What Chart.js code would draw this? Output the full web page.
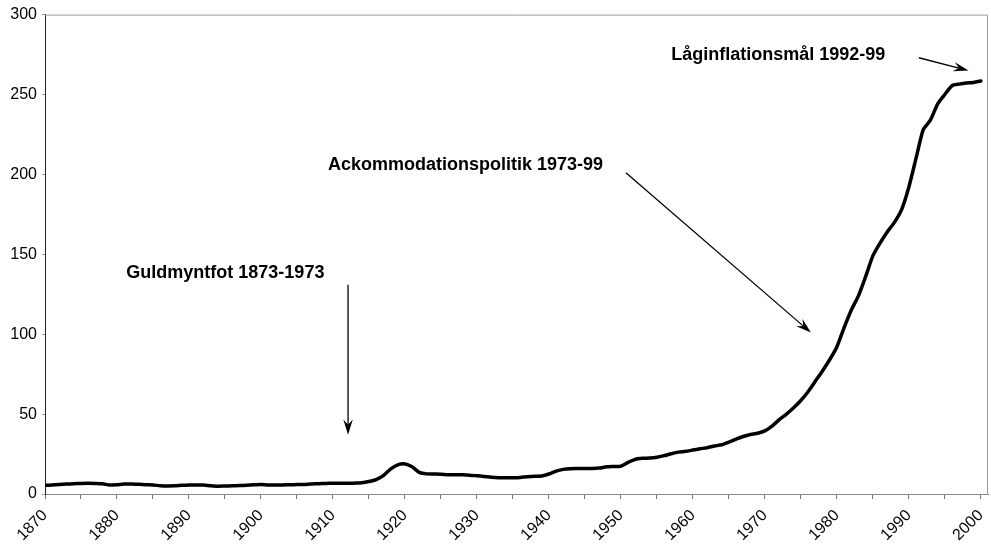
<!DOCTYPE html>
<html>
<head>
<meta charset="utf-8">
<script src="https://cdn.jsdelivr.net/npm/chart.js@4/dist/chart.umd.min.js"></script>
<style>
  html, body { margin: 0; padding: 0; background: #fff; }
  #wrap { width: 991px; height: 547px; }
</style>
</head>
<body>
<div id="wrap"><canvas id="myChart"></canvas></div>
<script>
// Price level index, annual values 1870-2000
const years = [];
for (let y = 1870; y <= 2000; y++) years.push(y);

const priceIndex = [
    5.4, 5.6, 5.9, 6.2, 6.4, 6.6, 6.7, 6.6, 6.4, 5.6,      // 1870-1879
    5.8, 6.2, 6.3, 6.1, 5.8, 5.6, 5.2, 5.0, 5.1, 5.4,      // 1880-1889
    5.6, 5.7, 5.6, 5.2, 4.9, 5.0, 5.1, 5.3, 5.5, 5.8,      // 1890-1899
    6.0, 5.7, 5.6, 5.7, 5.8, 5.9, 6.0, 6.3, 6.4, 6.6,      // 1900-1909
    6.7, 6.7, 6.7, 6.8, 7.0, 7.8, 9.0, 11.5, 15.6, 18.2,   // 1910-1919
    18.8, 17.0, 13.5, 12.6, 12.5, 12.4, 12.1, 12.0, 12.0, 11.8, // 1920-1929
    11.4, 11.0, 10.5, 10.2, 10.1, 10.2, 10.4, 10.8, 11.1, 11.3, // 1930-1939
    12.5, 14.3, 15.4, 15.8, 15.9, 16.0, 16.0, 16.2, 17.0, 17.2, // 1940-1949
    17.4, 19.8, 21.7, 22.3, 22.5, 23.0, 24.0, 25.2, 26.2, 26.7, // 1950-1959
    27.5, 28.3, 29.0, 30.0, 30.8, 32.5, 34.3, 36.0, 37.2, 38.0, // 1960-1969
    39.5, 42.5, 46.5, 50.0, 54.0, 58.5, 64.0, 70.5, 77.0, 84.0, // 1970-1979
    92.0, 104, 115, 124, 136, 149, 157, 164, 170, 178,          // 1980-1989
    192, 210, 228, 234, 244, 250, 255.5, 256.5, 257.2, 257.5,   // 1990-1999
    258.5                                                        // 2000
];

const yTicks = [0, 50, 100, 150, 200, 250, 300];

// annotation labels and arrows, in data units (year, index)
const noteTexts = ['Guldmyntfot 1873-1973', 'Ackommodationspolitik 1973-99', 'Låginflationsmål 1992-99'];
const notePos = [[1881.3, 138], [1909.3, 205.6], [1957.0, 274.5]];
const arrowFrom = [[1912.1, 131], [1950.7, 201], [1991.4, 273]];
const arrowTo = [[1912.1, 37], [1976.4, 101], [1998.3, 265]];

const annotations = {
    id: 'annotations',
    afterDraw(chart) {
        const ctx = chart.ctx;
        const xs = chart.scales.x;
        const ys = chart.scales.y;
        const area = chart.chartArea;

        ctx.save();
        // plot frame
        ctx.strokeStyle = '#999';
        ctx.lineWidth = 1;
        ctx.beginPath();
        ctx.moveTo(area.left, area.top + 0.5);
        ctx.lineTo(area.right - 0.5, area.top + 0.5);
        ctx.lineTo(area.right - 0.5, area.bottom);
        ctx.stroke();

        ctx.fillStyle = '#000';
        ctx.font = 'bold 18px "Liberation Sans", Arial, sans-serif';
        ctx.textBaseline = 'middle';
        ctx.textAlign = 'left';
        noteTexts.forEach((t, i) => {
            ctx.fillText(t, xs.getPixelForValue(notePos[i][0]), ys.getPixelForValue(notePos[i][1]));
        });

        ctx.strokeStyle = '#000';
        ctx.lineWidth = 1.3;
        arrowFrom.forEach((from, i) => {
            const x1 = xs.getPixelForValue(from[0]);
            const y1 = ys.getPixelForValue(from[1]);
            const x2 = xs.getPixelForValue(arrowTo[i][0]);
            const y2 = ys.getPixelForValue(arrowTo[i][1]);
            const ang = Math.atan2(y2 - y1, x2 - x1);
            const len = 16;
            const spread = 0.3;
            ctx.beginPath();
            ctx.moveTo(x1, y1);
            ctx.lineTo(x2 - Math.cos(ang) * 8, y2 - Math.sin(ang) * 8);
            ctx.stroke();
            ctx.beginPath();
            ctx.moveTo(x2, y2);
            ctx.lineTo(x2 - len * Math.cos(ang - spread), y2 - len * Math.sin(ang - spread));
            ctx.lineTo(x2 - 10 * Math.cos(ang), y2 - 10 * Math.sin(ang));
            ctx.lineTo(x2 - len * Math.cos(ang + spread), y2 - len * Math.sin(ang + spread));
            ctx.closePath();
            ctx.fill();
        });
        ctx.restore();
    }
};

const ctx = document.getElementById('myChart').getContext('2d');
new Chart(ctx, {
    type: 'line',
    data: {
        datasets: [{
            data: years.map((y, i) => ({ x: y, y: priceIndex[i] })),
            borderColor: '#000',
            borderWidth: 3.5,
            borderJoinStyle: 'round',
            borderCapStyle: 'round',
            pointRadius: 0,
            tension: 0.2,
            fill: false,
        }]
    },
    options: {
        responsive: true,
        maintainAspectRatio: false,
        animation: false,
        layout: { padding: { top: 14, right: 3, left: 0, bottom: 0 } },
        plugins: {
            legend: { display: false },
            tooltip: { enabled: false },
        },
        scales: {
            x: {
                type: 'linear',
                min: 1870,
                max: 2001,
                afterFit: (scale) => {
                    scale.height = 53;
                    scale.paddingRight = 0;
                    scale.paddingLeft = 0;
                },
                afterBuildTicks: (scale) => {
                    const t = [];
                    for (let v = 1870; v <= 2000; v += 5) t.push({ value: v });
                    scale.ticks = t;
                },
                grid: {
                    display: true,
                    drawOnChartArea: false,
                    drawTicks: true,
                    tickLength: 5,
                    color: '#777',
                },
                border: { display: true, color: '#888', width: 1 },
                ticks: {
                    autoSkip: false,
                    minRotation: 45,
                    maxRotation: 45,
                    padding: 7,
                    color: '#000',
                    font: { family: '"Liberation Sans", Arial, sans-serif', size: 16 },
                    callback: (v) => (v % 10 === 0 ? String(v) : ''),
                },
            },
            y: {
                min: 0,
                max: 300,
                afterFit: (scale) => { scale.width = 45; },
                afterBuildTicks: (scale) => {
                    scale.ticks = yTicks.map(v => ({ value: v }));
                },
                grid: { display: true, drawOnChartArea: false, drawTicks: true, tickLength: 3, color: '#999' },
                border: { display: true, color: '#222', width: 1 },
                ticks: {
                    padding: 5,
                    color: '#000',
                    font: { family: '"Liberation Sans", Arial, sans-serif', size: 16 },
                },
            },
        },
    },
    plugins: [annotations],
});
</script>
</body>
</html>
